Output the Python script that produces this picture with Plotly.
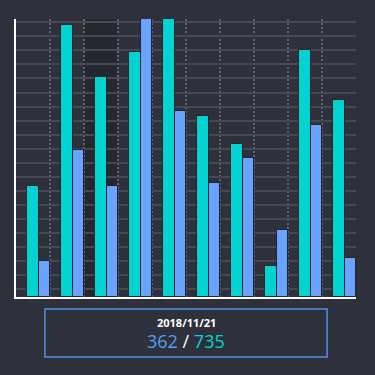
import plotly.graph_objects as go

categories = list(range(10))
teal_values = [40, 98, 79, 88, 100, 65, 55, 11, 89, 71]
blue_values = [13, 53, 40, 100, 67, 41, 50, 24, 62, 14]
highlight_index = 2
date_label = "2018/11/21"
blue_total = 362
teal_total = 735

BG = "#2e313c"
TEAL = "#00d3d0"
BLUE = "#67a3ff"

fig = go.Figure()
fig.add_trace(go.Bar(x=categories, y=teal_values, width=1/3, offset=-1/6,
                     marker=dict(color=TEAL, line=dict(color="#23252c", width=1))))
fig.add_trace(go.Bar(x=categories, y=blue_values, width=1/3, offset=1/6,
                     marker=dict(color=BLUE, line=dict(color="#23252c", width=1))))

fig.add_shape(type="rect", xref="x", yref="paper", x0=highlight_index - 0.5, x1=highlight_index + 0.5,
              y0=0, y1=1, fillcolor="#24272e", line_width=0, layer="below")

fig.add_shape(type="rect", xref="paper", yref="paper", x0=0.085, x1=0.915, y0=-0.216, y1=-0.043,
              line=dict(color="#4f8fe6", width=1.5), fillcolor="rgba(0,0,0,0)")

fig.add_annotation(xref="paper", yref="paper", x=0.5, y=-0.09, yanchor="middle", text=f"<b>{date_label}</b>",
                   showarrow=False, font=dict(family="Open Sans", size=11, color="#ffffff"))
fig.add_annotation(xref="paper", yref="paper", x=0.5, y=-0.158, yanchor="middle",
                   text=f"<span style='color:#5b9bf0'>{blue_total}</span> / <span style='color:#00d4d4'>{teal_total}</span>",
                   showarrow=False, font=dict(family="Open Sans", size=18, color="#ffffff"))

fig.update_layout(
    width=375, height=375,
    margin=dict(l=16, r=19, t=19, b=78),
    paper_bgcolor=BG, plot_bgcolor=BG,
    showlegend=False, bargap=0,
    xaxis=dict(range=[-0.5, 9.5], showticklabels=False, ticks="",
               tick0=0.5, dtick=1, showgrid=True, gridcolor="#60636c", gridwidth=2,
               griddash="2px,2px", zeroline=False,
               showline=True, linecolor="#ffffff", linewidth=2),
    yaxis=dict(range=[0, 100], showticklabels=False, ticks="",
               tick0=7.9, dtick=5.05, showgrid=True, gridcolor="#464953", gridwidth=2,
               zeroline=False, showline=True, linecolor="#ffffff", linewidth=2),
)

fig.write_html("out.html", config={"displayModeBar": False},
               post_script="document.body.style.margin='0';document.body.style.background='#2e313c';")
